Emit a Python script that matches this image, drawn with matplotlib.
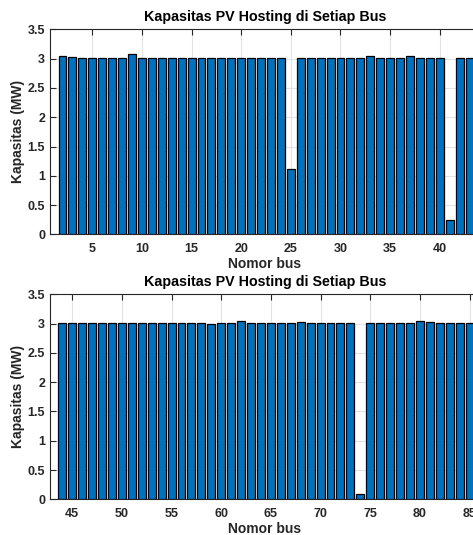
import numpy as np
import matplotlib
matplotlib.use("Agg")
import matplotlib.pyplot as plt
from matplotlib.ticker import FuncFormatter

plt.rcParams['font.family'] = ['Liberation Sans', 'DejaVu Sans']
plt.rcParams['font.weight'] = 'bold'

# bus 2..43 (top panel)
bus_top = list(range(2, 44))
cap_top = [3.05, 3.03, 3.02, 3.01, 3.01, 3.02, 3.01, 3.08, 3.01, 3.01,
           3.02, 3.01, 3.01, 3.02, 3.01, 3.02, 3.02, 3.02, 3.02, 3.02,
           3.02, 3.02, 3.01, 1.12, 3.01, 3.01, 3.02, 3.02, 3.01, 3.02,
           3.02, 3.04, 3.02, 3.02, 3.02, 3.04, 3.01, 3.02, 3.02, 0.25,
           3.02, 3.02]

# bus 44..85 (bottom panel)
bus_bot = list(range(44, 86))
cap_bot = [3.02, 3.01, 3.02, 3.02, 3.01, 3.01, 3.02, 3.01, 3.02, 3.02,
           3.02, 3.01, 3.02, 3.02, 3.01, 3.00, 3.02, 3.02, 3.04, 3.02,
           3.02, 3.02, 3.01, 3.02, 3.03, 3.01, 3.02, 3.02, 3.02, 3.02,
           0.09, 3.01, 3.02, 3.02, 3.02, 3.02, 3.04, 3.03, 3.01, 3.02,
           3.02, 3.02]

title = 'Kapasitas PV Hosting di Setiap Bus'
xlab = 'Nomor bus'
ylab = 'Kapasitas (MW)'
txt = '#262626'

fig = plt.figure(figsize=(4.73, 5.35), dpi=100)

def draw(ax, x, y, xlim, xticks):
    ax.bar(x, y, width=0.8, color='#0072BD', edgecolor='black',
           linewidth=0.9, zorder=3)
    ax.set_xlim(xlim)
    ax.set_ylim(0, 3.5)
    ax.set_xticks(xticks)
    ax.set_yticks(np.arange(0, 3.51, 0.5))
    ax.yaxis.set_major_formatter(FuncFormatter(lambda v, p: f'{v:g}'))
    ax.grid(True, color='#e3e3e3', linewidth=0.8, zorder=0)
    ax.set_axisbelow(True)
    ax.tick_params(direction='in', length=4, width=0.8, top=True,
                   colors=txt, labelsize=9)
    ax.tick_params(axis='x', pad=6)
    ax.tick_params(axis='y', pad=3.5)
    for lb in ax.get_xticklabels() + ax.get_yticklabels():
        lb.set_fontweight('bold')
    for s in ax.spines.values():
        s.set_color(txt)
        s.set_linewidth(0.8)
    ax.set_title(title, fontsize=10.3, fontweight='bold', color='black', pad=6)
    ax.set_xlabel(xlab, fontsize=10, fontweight='bold', color=txt, labelpad=1.5)
    ax.set_ylabel(ylab, fontsize=10, fontweight='bold', color=txt, labelpad=2)

ax1 = fig.add_axes([0.1057, 0.562, 0.908, 0.383])
draw(ax1, bus_top, cap_top, (0.74, 44.0), range(5, 45, 5))

ax2 = fig.add_axes([0.1057, 0.0667, 0.908, 0.383])
draw(ax2, bus_bot, cap_bot, (42.76, 86.0), range(45, 90, 5))

fig.savefig('out.png', dpi=100)
